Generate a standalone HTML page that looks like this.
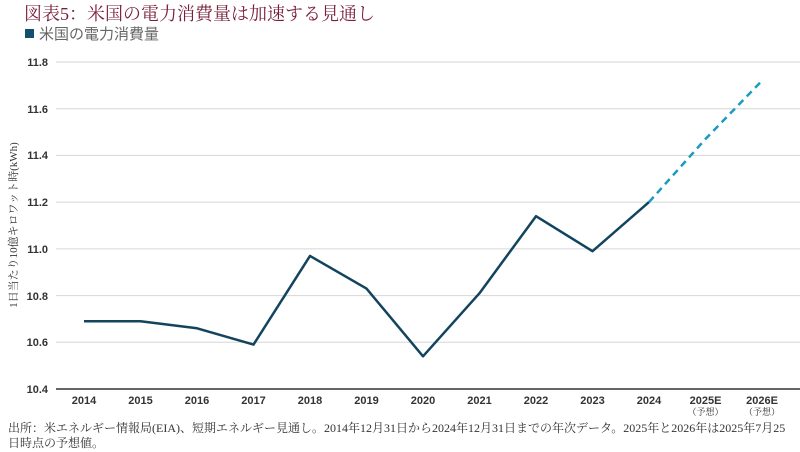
<!DOCTYPE html>
<html><head><meta charset="utf-8"><style>
body{margin:0;background:#fff;width:800px;height:452px;overflow:hidden}
svg{display:block}
</style></head><body>
<svg width="800" height="452" xmlns="http://www.w3.org/2000/svg" font-family="'Liberation Serif','Noto Serif CJK SC',serif">
<text x="24" y="20" font-size="18" fill="#7a1f3a">図表5：米国の電力消費量は加速する見通し</text>
<rect x="25" y="29" width="9" height="9" fill="#13506e"/>
<text x="39" y="39" font-size="15" fill="#666" font-family="'Liberation Sans','Noto Sans CJK JP',sans-serif">米国の電力消費量</text>
<g stroke="#d6d6d6" stroke-width="1">
<line x1="56" x2="800" y1="62" y2="62"/><line x1="56" x2="800" y1="108.7" y2="108.7"/>
<line x1="56" x2="800" y1="155.4" y2="155.4"/><line x1="56" x2="800" y1="202.1" y2="202.1"/>
<line x1="56" x2="800" y1="248.9" y2="248.9"/><line x1="56" x2="800" y1="295.6" y2="295.6"/>
<line x1="56" x2="800" y1="342.3" y2="342.3"/>
</g>
<line x1="56" x2="800" y1="389" y2="389" stroke="#333" stroke-width="1.5"/>
<g font-family="'Liberation Sans',sans-serif" font-size="11" font-weight="bold" fill="#333" text-anchor="end">
<text x="48" y="66">11.8</text><text x="48" y="113">11.6</text><text x="48" y="159">11.4</text>
<text x="48" y="206">11.2</text><text x="48" y="253">11.0</text><text x="48" y="300">10.8</text>
<text x="48" y="346">10.6</text><text x="48" y="393">10.4</text>
</g>
<g font-family="'Liberation Sans',sans-serif" font-size="11" font-weight="bold" fill="#333" text-anchor="middle">
<text x="84" y="404">2014</text><text x="140.5" y="404">2015</text><text x="197" y="404">2016</text>
<text x="253.5" y="404">2017</text><text x="310" y="404">2018</text><text x="366.5" y="404">2019</text>
<text x="423" y="404">2020</text><text x="479.5" y="404">2021</text><text x="536" y="404">2022</text>
<text x="592.5" y="404">2023</text><text x="649" y="404">2024</text><text x="705.5" y="404">2025E</text>
<text x="762" y="404">2026E</text>
</g>
<g font-size="9" fill="#333" text-anchor="middle"><text x="705.5" y="415">（予想）</text><text x="762" y="415">（予想）</text></g>
<text transform="translate(17,225) rotate(-90)" font-size="11" fill="#333" text-anchor="middle">1日当たり10億キロワット時(kWh)</text>
<polyline fill="none" stroke="#13445e" stroke-width="2.5" stroke-linejoin="round" points="84,321.3 140.5,321.3 197,328.3 253.5,344.6 310,255.9 366.5,288.6 423,356.3 479.5,293.2 536,216.2 592.5,251.2 649,202.1"/>
<polyline fill="none" stroke="#1a9bbf" stroke-width="2.5" stroke-dasharray="7,5" points="649,202.1 705.5,139 762,80.7"/>
<text x="8" y="432" font-size="12" fill="#333">出所：米エネルギー情報局(EIA)、短期エネルギー見通し。2014年12月31日から2024年12月31日までの年次データ。2025年と2026年は2025年7月25</text>
<text x="8" y="447" font-size="12" fill="#333">日時点の予想値。</text>
</svg>
</body></html>
